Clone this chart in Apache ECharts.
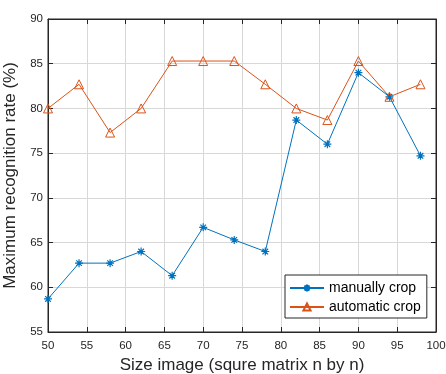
<!DOCTYPE html>
<html><head><meta charset="utf-8">
<script src="https://cdn.jsdelivr.net/npm/echarts@6/dist/echarts.min.js"></script>
<style>html,body{margin:0;padding:0;background:#fff}#c{width:446px;height:374px}</style>
</head><body><div id="c"></div>
<script>
const sizes = [50, 54, 58, 62, 66, 70, 74, 78, 82, 86, 90, 94, 98];
const manualCrop = [58.7, 62.7, 62.7, 64.0, 61.3, 66.7, 65.3, 64.0, 78.7, 76.0, 84.0, 81.3, 74.7];
const automaticCrop = [80.0, 82.7, 77.3, 80.0, 85.3, 85.3, 85.3, 82.7, 80.0, 78.7, 85.3, 81.3, 82.7];
const seriesNames = ['manually crop', 'automatic crop'];
const xName = 'Size image (squre matrix n by n)';
const yName = 'Maximum recognition rate (%)';

const font = 'Liberation Sans, Arial, sans-serif';
const axisCol = '#262626';
const star = 'path://M0,-1L0,1M-1,0L1,0M-0.7,-0.7L0.7,0.7M-0.7,0.7L0.7,-0.7';
const chart = echarts.init(document.getElementById('c'));
const baseX = {type:'value', min:50, max:100, interval:5};
const baseY = {type:'value', min:55, max:90, interval:5};
chart.setOption({
  animation:false,
  grid:{left:48, right:10, top:19, bottom:42, show:true, borderColor:axisCol, borderWidth:1, containLabel:false, outerBoundsMode:'none'},
  xAxis:[
    Object.assign({}, baseX, {position:'bottom', name:xName, nameLocation:'middle', nameGap:24,
      nameTextStyle:{fontFamily:font, fontSize:17, color:axisCol},
      axisLine:{show:true, lineStyle:{color:axisCol}},
      axisTick:{show:true, inside:true, length:5, lineStyle:{color:axisCol}},
      axisLabel:{fontFamily:font, fontSize:11.5, color:axisCol, margin:8},
      splitLine:{show:true, lineStyle:{color:'#d8d8d8', width:1}}}),
    Object.assign({}, baseX, {position:'top',
      axisLine:{show:true, lineStyle:{color:axisCol}},
      axisTick:{show:true, inside:true, length:5, lineStyle:{color:axisCol}},
      axisLabel:{show:false}, splitLine:{show:false}})
  ],
  yAxis:[
    Object.assign({}, baseY, {position:'left', name:yName, nameLocation:'middle', nameGap:27,
      nameTextStyle:{fontFamily:font, fontSize:17, color:axisCol},
      axisLine:{show:true, lineStyle:{color:axisCol}},
      axisTick:{show:true, inside:true, length:5, lineStyle:{color:axisCol}},
      axisLabel:{fontFamily:font, fontSize:11.5, color:axisCol, margin:5},
      splitLine:{show:true, lineStyle:{color:'#d8d8d8', width:1}}}),
    Object.assign({}, baseY, {position:'right',
      axisLine:{show:true, lineStyle:{color:axisCol}},
      axisTick:{show:true, inside:true, length:5, lineStyle:{color:axisCol}},
      axisLabel:{show:false}, splitLine:{show:false}})
  ],
  legend:{
    orient:'vertical', left:285, top:275, padding:[6,6,4,4], itemGap:5,
    backgroundColor:'#fff', borderColor:'#262626', borderWidth:1, borderRadius:0,
    itemWidth:34, itemHeight:9,
    textStyle:{fontFamily:font, fontSize:14, color:'#000'},
    data:seriesNames
  },
  series:[
    {name:seriesNames[0], type:'line', data:sizes.map((x,i)=>[x, manualCrop[i]]),
      symbol:star, symbolSize:8, showAllSymbol:true,
      lineStyle:{color:'#0072BD', width:1},
      itemStyle:{color:'#0072BD', borderColor:'#0072BD', borderWidth:1.2}},
    {name:seriesNames[1], type:'line', data:sizes.map((x,i)=>[x, automaticCrop[i]]),
      symbol:'triangle', symbolSize:9, showAllSymbol:true,
      lineStyle:{color:'#D95319', width:1},
      itemStyle:{color:'rgba(255,255,255,0)', borderColor:'#D95319', borderWidth:1}}
  ]
});
</script></body></html>
